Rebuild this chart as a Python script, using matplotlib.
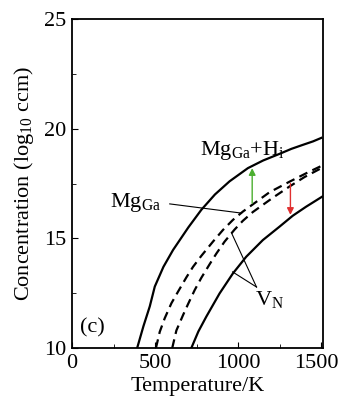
import matplotlib
matplotlib.use("Agg")
import matplotlib.pyplot as plt
import matplotlib.transforms as mtransforms
from matplotlib.ticker import MultipleLocator

plt.rcParams['font.family'] = ['Liberation Serif', 'DejaVu Serif']
plt.rcParams['mathtext.fontset'] = 'custom'
plt.rcParams['mathtext.rm'] = 'Liberation Serif'
plt.rcParams['mathtext.it'] = 'Liberation Serif'

# Data
T_mgh = [392, 430, 468, 498, 550, 608, 700, 778, 860, 948, 1058, 1150, 1248, 1320, 1388, 1450, 1500]
c_mgh = [10, 11.0, 11.9, 12.8, 13.7, 14.47, 15.5, 16.3, 17.0, 17.6, 18.2, 18.55, 18.85, 19.08, 19.26, 19.42, 19.58]

T_mg = [505, 528, 558, 598, 638, 688, 728, 778, 848, 908, 968, 1028, 1088, 1188, 1308, 1428, 1500]
c_mg = [10, 10.74, 11.36, 12.04, 12.57, 13.22, 13.7, 14.2, 14.85, 15.38, 15.84, 16.22, 16.55, 17.1, 17.58, 18.04, 18.3]

T_vn1 = [603, 628, 668, 698, 738, 778, 828, 868, 918, 978, 1028, 1088, 1208, 1308, 1400, 1500]
c_vn1 = [10, 10.8, 11.5, 12.0, 12.64, 13.2, 13.82, 14.3, 14.85, 15.4, 15.8, 16.2, 16.85, 17.36, 17.8, 18.2]

T_vn2 = [718, 760, 808, 888, 968, 1048, 1148, 1248, 1328, 1408, 1505]
c_vn2 = [10, 10.75, 11.43, 12.49, 13.4, 14.16, 14.92, 15.53, 16.03, 16.44, 16.9]

green_arrow = (1084, 16.6, 18.2)
red_arrow = (1314, 17.5, 16.07)

fig = plt.figure(figsize=(3.39, 4.03), dpi=100)
ax = fig.add_axes([72/339, 1 - 348/403, (323-72)/339, (348-19)/403])

line_kw = dict(color='black', lw=1.6, solid_joinstyle='round', dash_joinstyle='round')
ax.plot(T_mgh, c_mgh, **line_kw)
ax.plot(T_mg, c_mg, ls=(0, (4, 2.5)), **line_kw)
ax.plot(T_vn1, c_vn1, ls=(0, (4, 2.5)), **line_kw)
ax.plot(T_vn2, c_vn2, **line_kw)

ax.annotate('', xy=(green_arrow[0], green_arrow[2]), xytext=(green_arrow[0], green_arrow[1]),
            arrowprops=dict(arrowstyle='-|>', color='#4caf30', lw=1.0, mutation_scale=10,
                            shrinkA=0, shrinkB=0))
ax.annotate('', xy=(red_arrow[0], red_arrow[2]), xytext=(red_arrow[0], red_arrow[1]),
            arrowprops=dict(arrowstyle='-|>', color='#e03030', lw=1.0, mutation_scale=10,
                            shrinkA=0, shrinkB=0))

ax.set_xlim(0, 1510)
ax.set_ylim(10, 25)
ax.xaxis.set_major_locator(MultipleLocator(500))
ax.xaxis.set_minor_locator(MultipleLocator(250))
ax.yaxis.set_major_locator(MultipleLocator(5))
ax.yaxis.set_minor_locator(MultipleLocator(2.5))
ax.tick_params(which='both', direction='in', labelsize=16, top=False, right=False)
ax.tick_params(which='major', length=4, pad=4)
ax.tick_params(which='minor', length=3)
for s in ax.spines.values():
    s.set_linewidth(1.3)

ax.set_xlabel('Temperature/K', fontsize=16, labelpad=3)
ax.set_ylabel('Concentration (log$_{10}$ ccm)', fontsize=16, labelpad=6)

ax.text(768, 18.8, 'Mg$_{\\mathrm{Ga}}$+H$_{\\mathrm{i}}$', fontsize=16)
ax.text(228, 16.45, 'Mg$_{\\mathrm{Ga}}$', fontsize=16)
ax.plot([588, 1020], [16.57, 16.15], color='black', lw=0.8)
ax.text(1098, 11.95, 'V$_{\\mathrm{N}}$', fontsize=16)
ax.plot([1110, 960], [12.78, 15.24], color='black', lw=0.8)
ax.plot([1110, 966], [12.78, 13.47], color='black', lw=0.8)
ax.text(48, 10.7, '(c)', fontsize=16)

# nudge the last x tick label left so it stays inside the figure, as in the reference
fig.canvas.draw()
shift = mtransforms.ScaledTranslation(-5 / 100, 0, fig.dpi_scale_trans)
for tick in ax.xaxis.get_major_ticks():
    if abs(tick.get_loc() - 1500) < 1e-6:
        tick.label1.set_transform(tick.label1.get_transform() + shift)

fig.savefig('out.png', dpi=100)
